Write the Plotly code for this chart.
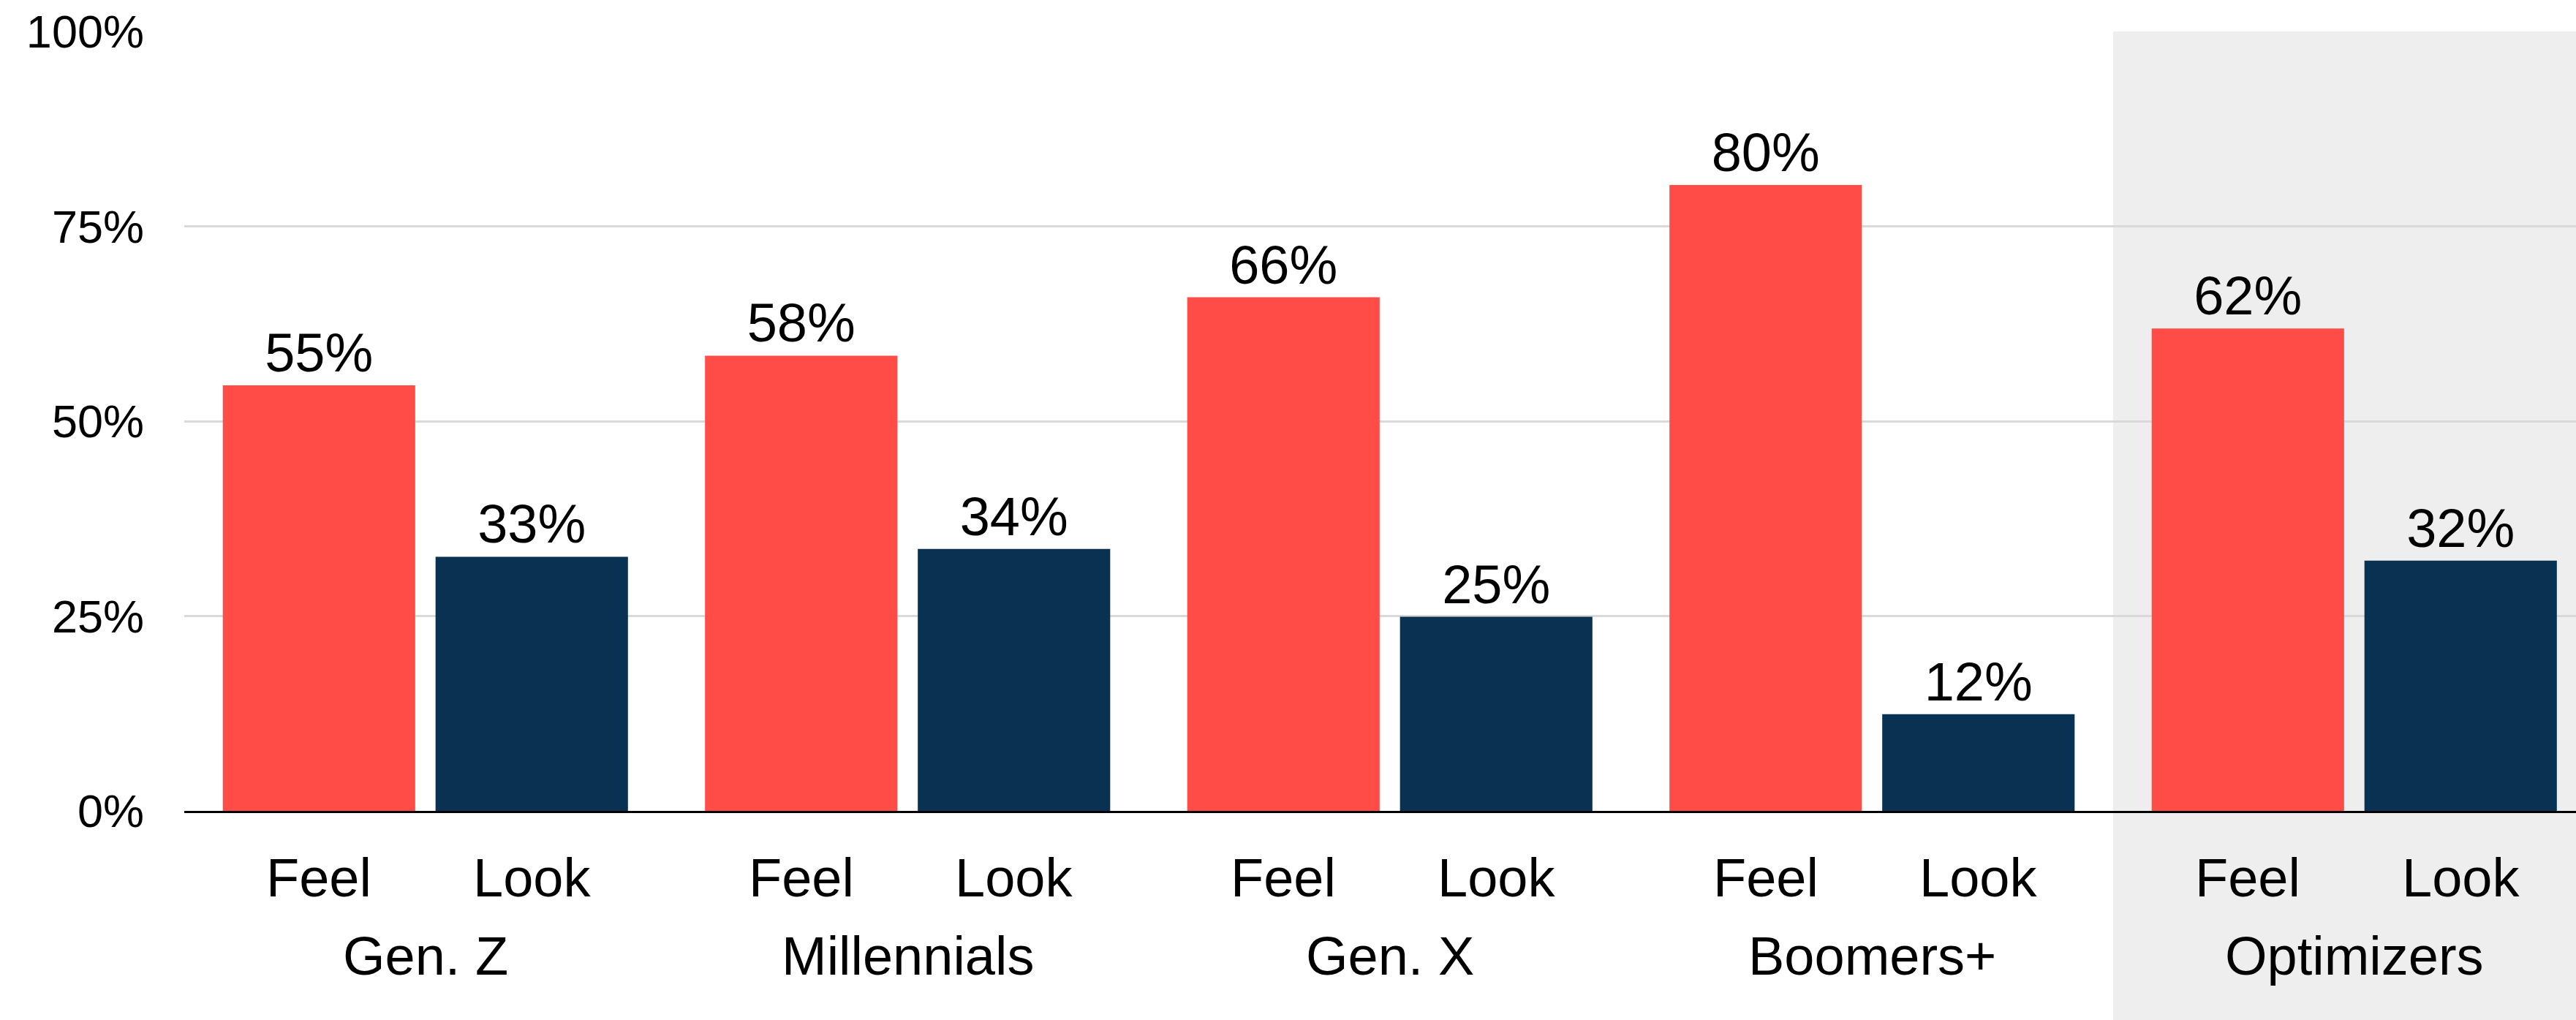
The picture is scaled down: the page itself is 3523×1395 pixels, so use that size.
import plotly.graph_objects as go

groups = ["Gen. Z", "Millennials", "Gen. X", "Boomers+", "Optimizers"]
series_names = ["Feel", "Look"]
feel_values = [54.6, 58.4, 65.9, 80.3, 61.9]
look_values = [32.6, 33.6, 24.9, 12.4, 32.1]
y_tick_vals = [0, 25, 50, 75, 100]
y_tick_text = ["0%", "25%", "50%", "75%", "100%"]
highlight_group = "Optimizers"

RED = "#ff4c46"
NAVY = "#093152"
FONT = "Liberation Sans, Arial, sans-serif"

W, H = 3523, 1395
ML, MR, MT, MB = 252, 0, 43, 286
plot_w = W - ML - MR
plot_h = H - MT - MB
group_px = 659.5
x_lo = -0.5
x_hi = x_lo + plot_w / group_px

offset = 0.2206
bar_w = 0.399

idx = list(range(len(groups)))
feel_x = [i - offset for i in idx]
look_x = [i + offset for i in idx]

fig = go.Figure()
for name, xs, vals, col in [("Feel", feel_x, feel_values, RED), ("Look", look_x, look_values, NAVY)]:
    fig.add_trace(go.Bar(
        x=xs, y=vals, width=[bar_w] * len(xs), name=name,
        marker=dict(color=col, line=dict(width=0)),
        texttemplate="%{y:.0f}%", textposition="outside",
        textfont=dict(family=FONT, size=74, color="black"),
        cliponaxis=False, showlegend=False,
    ))

series_y = -91 / plot_h
group_y = -198 / plot_h
annotations = []
for i, g in enumerate(groups):
    for xs, lab in [(feel_x[i], series_names[0]), (look_x[i], series_names[1])]:
        annotations.append(dict(x=xs, y=series_y, xref="x", yref="paper", text=lab, showarrow=False,
                                xanchor="center", yanchor="middle",
                                font=dict(family=FONT, size=74, color="black")))
    annotations.append(dict(x=i, y=group_y, xref="x", yref="paper", text=g, showarrow=False,
                            xanchor="center", yanchor="middle",
                            font=dict(family=FONT, size=74, color="black")))

hi = groups.index(highlight_group)
shapes = [dict(type="rect", xref="x", yref="paper", x0=hi - 0.5, x1=x_hi + 1,
               y0=-MB / plot_h - 0.01, y1=1, fillcolor="#eeeeee",
               line=dict(width=0), layer="below")]

fig.update_layout(
    width=W, height=H,
    margin=dict(l=ML, r=MR, t=MT, b=MB, pad=0),
    paper_bgcolor="white", plot_bgcolor="rgba(0,0,0,0)",
    barmode="overlay",
    annotations=annotations, shapes=shapes,
    font=dict(family=FONT, color="black"),
    xaxis=dict(range=[x_lo, x_hi], showgrid=False, zeroline=False, showticklabels=False,
               showline=True, linecolor="black", linewidth=2.5, ticks=""),
    yaxis=dict(range=[0, 100], tickvals=y_tick_vals, ticktext=y_tick_text,
               showgrid=True, gridcolor="#d9d9d9", gridwidth=2.5, zeroline=False,
               showline=False, ticks="", ticklabelstandoff=54,
               tickfont=dict(family=FONT, size=63, color="black")),
)

fig.write_html("out.html")
